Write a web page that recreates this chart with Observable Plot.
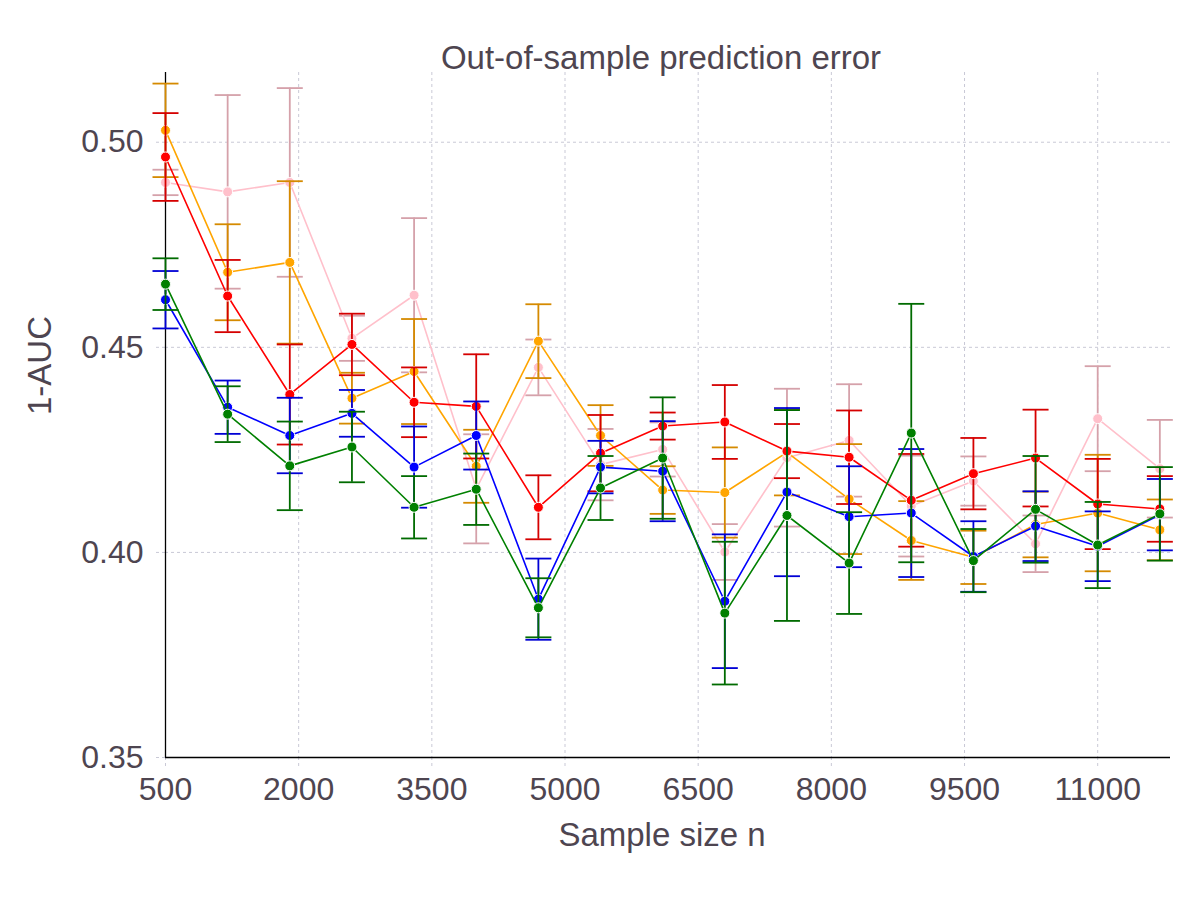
<!DOCTYPE html>
<html>
<head>
<meta charset="utf-8">
<script src="https://cdn.jsdelivr.net/npm/d3@7"></script>
<script src="https://cdn.jsdelivr.net/npm/@observablehq/plot@0.6"></script>
<style>
  body { margin: 0; background: #ffffff; }
  #chart svg { display: block; }
</style>
</head>
<body>
<div id="chart"></div>
<script>
// Sample sizes on the x axis
const sampleSizes = [500, 1200, 1900, 2600, 3300, 4000, 4700, 5400, 6100, 6800, 7500, 8200, 8900, 9600, 10300, 11000, 11700];

// 1-AUC means and error half-widths, one pair of arrays per method
const pinkMean   = [0.4902, 0.4879, 0.4902, 0.4522, 0.4627, 0.4155, 0.4451, 0.4214, 0.4251, 0.4001, 0.4231, 0.4273, 0.4113, 0.4174, 0.4021, 0.4326, 0.4204];
const pinkErr    = [0.0031, 0.0236, 0.0230, 0.0055, 0.0188, 0.0133, 0.0068, 0.0087, 0.0066, 0.0068, 0.0168, 0.0137, 0.0123, 0.0060, 0.0069, 0.0128, 0.0119];

const orangeMean = [0.5029, 0.4683, 0.4707, 0.4376, 0.4441, 0.4210, 0.4515, 0.4285, 0.4152, 0.4146, 0.4244, 0.4130, 0.4029, 0.3988, 0.4068, 0.4096, 0.4055];
const orangeErr  = [0.0114, 0.0117, 0.0198, 0.0062, 0.0128, 0.0089, 0.0090, 0.0074, 0.0058, 0.0110, 0.0105, 0.0134, 0.0096, 0.0065, 0.0080, 0.0142, 0.0074];

const redMean    = [0.4964, 0.4625, 0.4385, 0.4507, 0.4366, 0.4356, 0.4110, 0.4242, 0.4308, 0.4318, 0.4247, 0.4232, 0.4127, 0.4192, 0.4230, 0.4118, 0.4106];
const redErr     = [0.0107, 0.0088, 0.0122, 0.0075, 0.0085, 0.0127, 0.0078, 0.0093, 0.0033, 0.0090, 0.0066, 0.0114, 0.0113, 0.0087, 0.0118, 0.0110, 0.0080];

const blueMean   = [0.4616, 0.4354, 0.4285, 0.4339, 0.4208, 0.4285, 0.3886, 0.4208, 0.4198, 0.3881, 0.4147, 0.4087, 0.4096, 0.3990, 0.4064, 0.4015, 0.4092];
const blueErr    = [0.0070, 0.0065, 0.0092, 0.0057, 0.0099, 0.0083, 0.0099, 0.0064, 0.0122, 0.0163, 0.0205, 0.0123, 0.0156, 0.0086, 0.0085, 0.0085, 0.0087];

const greenMean  = [0.4654, 0.4337, 0.4211, 0.4257, 0.4110, 0.4154, 0.3865, 0.4157, 0.4230, 0.3852, 0.4090, 0.3974, 0.4291, 0.3980, 0.4105, 0.4018, 0.4094];
const greenErr   = [0.0063, 0.0068, 0.0108, 0.0086, 0.0076, 0.0087, 0.0072, 0.0078, 0.0148, 0.0174, 0.0257, 0.0124, 0.0315, 0.0077, 0.0130, 0.0105, 0.0114];

// Axis ticks
const xTicks = [500, 2000, 3500, 5000, 6500, 8000, 9500, 11000];
const yTicks = [0.35, 0.40, 0.45, 0.50];

// Text
const titleText = "Out-of-sample prediction error";
const xLabel = "Sample size n";
const yLabel = "1-AUC";

// Styling
const seriesColors = ["pink", "orange", "red", "blue", "green"];
const textColor = "#4e4550";
const gridColor = "#c9c9d6";
const fontFamily = "'Liberation Sans', Arial, Helvetica, sans-serif";

const seriesList = [
  [pinkMean, pinkErr],
  [orangeMean, orangeErr],
  [redMean, redErr],
  [blueMean, blueErr],
  [greenMean, greenErr]
].map(([mean, err], k) => ({
  color: seriesColors[k],
  barColor: d3.color(seriesColors[k]).darker(0.5).formatHex(),
  rows: sampleSizes.map((n, i) => ({n, mean: mean[i], lo: mean[i] - err[i], hi: mean[i] + err[i]}))
}));

// Horizontal line used as the error-bar cap; half-width equals the dot radius
const capSymbol = {
  draw(context, size) {
    const w = Math.sqrt(size / Math.PI);
    context.moveTo(-w, 0);
    context.lineTo(w, 0);
  }
};

const seriesMarks = seriesList.flatMap(s => [
  Plot.ruleX(s.rows, {x: "n", y1: "lo", y2: "hi", stroke: s.barColor, strokeWidth: 1.8}),
  Plot.dot(s.rows, {x: "n", y: "hi", symbol: capSymbol, r: 13, stroke: s.barColor, strokeWidth: 1.8, fill: "none"}),
  Plot.dot(s.rows, {x: "n", y: "lo", symbol: capSymbol, r: 13, stroke: s.barColor, strokeWidth: 1.8, fill: "none"}),
  Plot.line(s.rows, {x: "n", y: "mean", stroke: s.color, strokeWidth: 1.6}),
  Plot.dot(s.rows, {x: "n", y: "mean", r: 5, fill: s.color, stroke: "white", strokeWidth: 1})
]);

const chart = Plot.plot({
  width: 1200,
  height: 900,
  marginLeft: 165,
  marginRight: 30,
  marginTop: 72,
  marginBottom: 143,
  style: {fontFamily, fontSize: "32px", color: textColor, background: "#ffffff"},
  x: {domain: [500, 11820]},
  y: {domain: [0.35, 0.517]},
  marks: [
    Plot.gridX(xTicks, {stroke: gridColor, strokeOpacity: 1, strokeDasharray: "3,3"}),
    Plot.gridY(yTicks, {stroke: gridColor, strokeOpacity: 1, strokeDasharray: "3,3"}),
    Plot.axisX(xTicks, {
      tickSize: 10, tickPadding: 10, stroke: gridColor, strokeOpacity: 1, strokeDasharray: "3,3",
      fill: textColor, fontSize: 32, label: null, tickFormat: d3.format("d")
    }),
    Plot.axisY(yTicks, {
      tickSize: 12, tickPadding: 10, stroke: gridColor, strokeOpacity: 1, strokeDasharray: "3,3",
      fill: textColor, fontSize: 32, label: null, tickFormat: d3.format(".2f")
    }),
    Plot.ruleX([500], {stroke: "black", strokeWidth: 1.3}),
    Plot.ruleY([0.35], {stroke: "black", strokeWidth: 1.3}),
    ...seriesMarks,
    Plot.text([titleText], {text: d => d, frameAnchor: "top", dx: -7, dy: -27, fontSize: 33, fill: textColor}),
    Plot.text([xLabel], {text: d => d, frameAnchor: "bottom", dx: -6, dy: 88, fontSize: 33, fill: textColor}),
    Plot.text([yLabel], {text: d => d, frameAnchor: "left", dx: -125, rotate: -90, fontSize: 33, fill: textColor})
  ]
});

document.getElementById("chart").appendChild(chart);
</script>
</body>
</html>
